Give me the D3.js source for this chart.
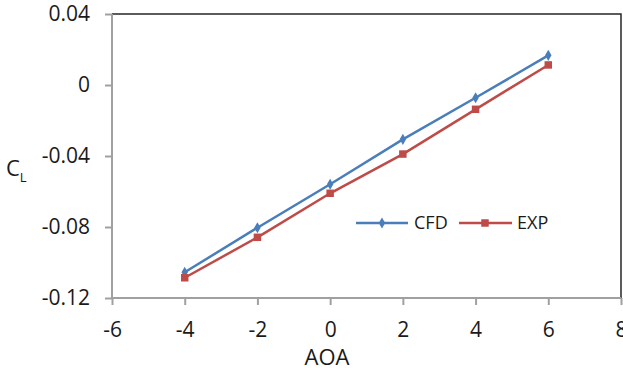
<!DOCTYPE html>
<html><head><meta charset="utf-8">
<script src="https://cdn.jsdelivr.net/npm/d3@7"></script>
<style>body{margin:0;background:#fff;} text{font-family:"Open Sans",sans-serif;fill:#1a1a1a;}</style>
</head><body>
<svg id="c" width="623" height="370"></svg>
<script>
const aoa = [-4, -2, 0, 2, 4, 6];
const cfd = [-0.1055, -0.0804, -0.0559, -0.0306, -0.0072, 0.0167];
const exp = [-0.1086, -0.0858, -0.0610, -0.0389, -0.0137, 0.0113];
const xTicks = [-6, -4, -2, 0, 2, 4, 6, 8];
const yTicks = [0.04, 0, -0.04, -0.08, -0.12];
const seriesNames = ["CFD", "EXP"];
const colors = ["#4A7EBB", "#BE4B48"];

const svg = d3.select("#c");
const L = 112, R = 621, T = 14, B = 298;
const x = d3.scaleLinear().domain([-6, 8]).range([L, R]);
const y = d3.scaleLinear().domain([-0.12, 0.04]).range([B, T]);

// plot area border (top/right dark)
svg.append("path").attr("d", `M${L},${T}H${R}V${B}`).attr("fill", "none")
  .attr("stroke", "#262626").attr("stroke-width", 1.5);

const fmtY = d => d === 0 ? "0" : d3.format(".2f")(d).replace("−", "-");
const yAxis = svg.append("g").attr("transform", `translate(${L},0)`)
  .call(d3.axisLeft(y).tickValues(yTicks).tickSize(7).tickPadding(15).tickFormat(fmtY));
const xAxis = svg.append("g").attr("transform", `translate(0,${B})`)
  .call(d3.axisBottom(x).tickValues(xTicks).tickSize(7).tickPadding(17).tickFormat(d => String(d).replace("−", "-")));
[yAxis, xAxis].forEach(g => {
  g.select(".domain").attr("stroke", "#a0a0a0").attr("stroke-width", 2);
  g.selectAll(".tick line").attr("stroke", "#a0a0a0").attr("stroke-width", 2);
  g.selectAll("text").attr("font-size", 21).attr("font-family", "Open Sans").attr("fill", "#1a1a1a");
});
xAxis.selectAll(".domain").attr("d", `M${L},0H${R}`);
yAxis.selectAll(".domain").attr("d", `M0,${B}V${T}`);

const data = [cfd, exp];
const line = d3.line().x((d, i) => x(aoa[i])).y(d => y(d));
const diamond = d3.symbol().type(d3.symbolDiamond).size(36);
const square = d3.symbol().type(d3.symbolSquare).size(56);

data.forEach((vals, s) => {
  svg.append("path").datum(vals).attr("d", line).attr("fill", "none")
    .attr("stroke", colors[s]).attr("stroke-width", 2.5);
  svg.selectAll(null).data(vals).enter().append("path")
    .attr("transform", (d, i) => `translate(${x(aoa[i])},${y(d)})`)
    .attr("d", s === 0 ? diamond() : square()).attr("fill", colors[s]);
});

// legend
const leg = [{x0: 356, x1: 408, m: 382, tx: 414}, {x0: 459, x1: 512, m: 485, tx: 517}];
const ly = 223;
leg.forEach((l, s) => {
  svg.append("line").attr("x1", l.x0).attr("x2", l.x1).attr("y1", ly).attr("y2", ly)
    .attr("stroke", colors[s]).attr("stroke-width", 2.5);
  svg.append("path").attr("transform", `translate(${l.m},${ly})`)
    .attr("d", s === 0 ? diamond() : square()).attr("fill", colors[s]);
  svg.append("text").attr("x", l.tx).attr("y", ly).attr("dy", "0.35em")
    .attr("font-size", 18).text(seriesNames[s]);
});

// axis titles
svg.append("text").attr("x", 327).attr("y", 357).attr("dy", "0.35em").attr("text-anchor", "middle")
  .attr("font-size", 22).text("AOA");
const cl = svg.append("text").attr("x", 6).attr("y", 168).attr("dy", "0.35em").attr("font-size", 22);
cl.append("tspan").text("C");
cl.append("tspan").attr("font-size", 13).attr("dy", "0.45em").text("L");
</script>
</body></html>
